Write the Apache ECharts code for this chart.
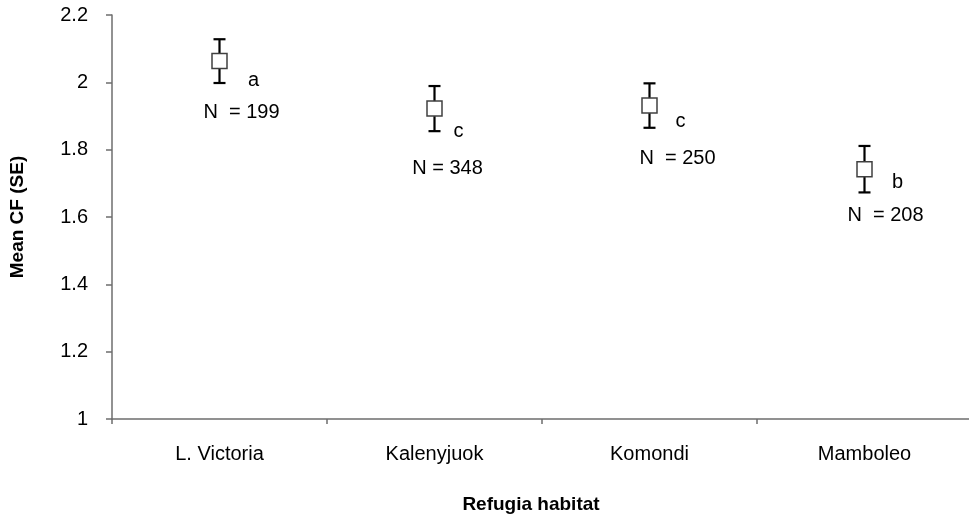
<!DOCTYPE html>
<html>
<head>
<meta charset="utf-8">
<title>Mean CF by refugia habitat</title>
<script src="https://cdn.jsdelivr.net/npm/echarts@6/dist/echarts.min.js"></script>
<style>
  html, body { margin: 0; padding: 0; background: #ffffff; }
  #chart { width: 969px; height: 517px; }
</style>
</head>
<body>
<div id="chart"></div>
<script>
// Habitat categories and per-habitat condition factor statistics
const categories = ['L. Victoria', 'Kalenyjuok', 'Komondi', 'Mamboleo'];
const meanCF = [2.063, 1.922, 1.931, 1.742];
const seCF = [0.065, 0.067, 0.066, 0.069];
const groupLetters = ['a', 'c', 'c', 'b'];
const sampleSizes = ['N  = 199', 'N = 348', 'N  = 250', 'N  = 208'];

// Y axis range
const yMin = 1;
const yMax = 2.2;
const yStep = 0.2;

// Pixel offsets of the annotation texts from each marker centre
const letterOffsets = [[34, 19], [24, 23], [31, 16], [33, 13]];
const countOffsets = [[22, 51], [13, 60], [28, 53], [21, 46]];

const FONT = "'Liberation Sans', Arial, Helvetica, sans-serif";

const seriesData = categories.map((c, i) => [i, meanCF[i], seCF[i]]);

const chart = echarts.init(document.getElementById('chart'), null, { renderer: 'canvas' });

chart.setOption({
  animation: false,
  backgroundColor: '#ffffff',
  grid: { left: 112, right: -3, top: 15, bottom: 98, containLabel: false, outerBoundsMode: 'none' },
  xAxis: {
    type: 'category',
    data: categories,
    boundaryGap: true,
    name: 'Refugia habitat',
    nameLocation: 'middle',
    nameGap: 76,
    nameTextStyle: { fontFamily: FONT, fontSize: 19, fontWeight: 'bold', color: '#000', padding: [0, 22, 0, 0] },
    axisLine: { lineStyle: { color: '#6e6e6e', width: 1.5 } },
    axisTick: { show: true, length: 5, interval: 0, lineStyle: { color: '#6e6e6e', width: 1.5 } },
    axisLabel: { fontFamily: FONT, fontSize: 20, color: '#000', margin: 25, interval: 0 },
    splitLine: { show: false }
  },
  yAxis: {
    type: 'value',
    min: yMin,
    max: yMax,
    interval: yStep,
    name: 'Mean CF (SE)',
    nameLocation: 'middle',
    nameGap: 85,
    nameRotate: 90,
    nameTextStyle: { fontFamily: FONT, fontSize: 19, fontWeight: 'bold', color: '#000' },
    axisLine: { show: true, lineStyle: { color: '#6e6e6e', width: 1.5 } },
    axisTick: { show: true, length: 6, inside: false, lineStyle: { color: '#6e6e6e', width: 1.5 } },
    axisLabel: { fontFamily: FONT, fontSize: 20, color: '#000', margin: 24 },
    splitLine: { show: false }
  },
  series: [{
    type: 'custom',
    data: seriesData,
    encode: { x: 0, y: 1 },
    clip: false,
    renderItem: function (params, api) {
      const idx = api.value(0);
      const mean = api.value(1);
      const se = api.value(2);
      const c = api.coord([idx, mean]);
      const top = api.coord([idx, mean + se]);
      const bot = api.coord([idx, mean - se]);
      const capHalf = 6;
      const box = 7.5;
      const barStyle = { stroke: '#000', lineWidth: 2.2 };
      const i = params.dataIndex;
      return {
        type: 'group',
        children: [
          { type: 'line', shape: { x1: c[0], y1: top[1], x2: c[0], y2: bot[1] }, style: barStyle },
          { type: 'line', shape: { x1: c[0] - capHalf, y1: top[1], x2: c[0] + capHalf, y2: top[1] }, style: barStyle },
          { type: 'line', shape: { x1: c[0] - capHalf, y1: bot[1], x2: c[0] + capHalf, y2: bot[1] }, style: barStyle },
          { type: 'rect', shape: { x: c[0] - box, y: c[1] - box, width: box * 2, height: box * 2 },
            style: { fill: '#ffffff', stroke: '#404040', lineWidth: 1.5 } },
          { type: 'text', x: c[0] + letterOffsets[i][0], y: c[1] + letterOffsets[i][1],
            style: { text: groupLetters[i], fill: '#000', font: '20px ' + FONT, align: 'center', verticalAlign: 'middle' } },
          { type: 'text', x: c[0] + countOffsets[i][0], y: c[1] + countOffsets[i][1],
            style: { text: sampleSizes[i], fill: '#000', font: '20px ' + FONT, align: 'center', verticalAlign: 'middle' } }
        ]
      };
    }
  }]
});
</script>
</body>
</html>
